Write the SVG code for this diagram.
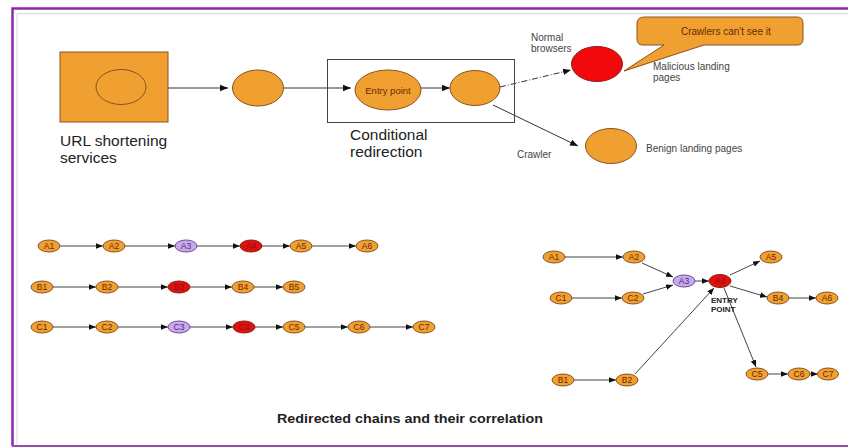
<svg xmlns="http://www.w3.org/2000/svg" width="848" height="448" viewBox="0 0 848 448">
<style>
text{font-family:"Liberation Sans",Arial,sans-serif}
.or{fill:#EFA031;stroke:#8a5220;stroke-width:1}
.rd{fill:#E01010;stroke:#8a2010;stroke-width:1}
.pu{fill:#C9A9EC;stroke:#6c4c9c;stroke-width:1}
.lbl{font-size:8.5px;fill:#6b2a00;text-anchor:middle}
.ann{font-size:10px;fill:#444}
.big{font-size:15.5px;fill:#222}
.e{stroke:#444;stroke-width:1;fill:none;marker-end:url(#ah)}
.eb{stroke:#333;stroke-width:1;fill:none;marker-end:url(#ahb)}
</style>
<defs>
<marker id="ah" viewBox="0 0 10 10" refX="10" refY="5" markerWidth="7" markerHeight="7" orient="auto" markerUnits="userSpaceOnUse"><path d="M0,1 L10,5 L0,9 z" fill="#111"/></marker>
<marker id="ahb" viewBox="0 0 10 10" refX="10" refY="5" markerWidth="8" markerHeight="8" orient="auto" markerUnits="userSpaceOnUse"><path d="M0,1 L10,5 L0,9 z" fill="#111"/></marker>
</defs>
<rect width="848" height="448" fill="#fff"/>
<g id="frame">
<path d="M12.5,446 V8.5 H848" fill="none" stroke="#8a2aa8" stroke-width="2.5"/>
<path d="M17,446 V13.5 H848" fill="none" stroke="#d8d8d8" stroke-width="1"/>
<line x1="12" y1="446" x2="848" y2="446" stroke="#9a4aa8" stroke-width="2"/>
</g>
<g id="connectors">
<line class="eb" x1="146" y1="88" x2="228" y2="88"/>
<line class="eb" x1="284" y1="88" x2="351" y2="88"/>
<line class="eb" x1="421" y1="88" x2="450" y2="88"/>
<line class="eb" x1="500" y1="87" x2="571" y2="70" stroke-dasharray="6 2 1 2"/>
<line class="eb" x1="493" y1="105" x2="578" y2="146"/>
<line class="e" x1="60" y1="246" x2="103" y2="246"/>
<line class="e" x1="125" y1="246" x2="175" y2="246"/>
<line class="e" x1="197" y1="246" x2="240" y2="246"/>
<line class="e" x1="262" y1="246" x2="290" y2="246"/>
<line class="e" x1="312" y1="246" x2="356" y2="246"/>
<line class="e" x1="53" y1="287" x2="96" y2="287"/>
<line class="e" x1="118" y1="287" x2="168" y2="287"/>
<line class="e" x1="190" y1="287" x2="232" y2="287"/>
<line class="e" x1="254" y1="287" x2="283" y2="287"/>
<line class="e" x1="53" y1="327" x2="96" y2="327"/>
<line class="e" x1="118" y1="327" x2="168" y2="327"/>
<line class="e" x1="190" y1="327" x2="233" y2="327"/>
<line class="e" x1="255" y1="327" x2="283" y2="327"/>
<line class="e" x1="305" y1="327" x2="348" y2="327"/>
<line class="e" x1="370" y1="327" x2="413" y2="327"/>
<line class="e" x1="565" y1="257" x2="623" y2="257"/>
<line class="e" x1="642" y1="263" x2="673" y2="277"/>
<line class="e" x1="572" y1="298" x2="622" y2="298"/>
<line class="e" x1="643" y1="294" x2="673" y2="285"/>
<line class="e" x1="574" y1="380" x2="616" y2="380"/>
<line class="e" x1="635" y1="374" x2="714" y2="288"/>
<line class="e" x1="695" y1="281" x2="709" y2="281"/>
<line class="e" x1="730" y1="275" x2="760" y2="261"/>
<line class="e" x1="730" y1="286" x2="767" y2="297"/>
<line class="e" x1="789" y1="298" x2="816" y2="298"/>
<line class="e" x1="724" y1="288" x2="756" y2="367"/>
<line class="e" x1="768" y1="374" x2="788" y2="374"/>
<line class="e" x1="810" y1="374" x2="818" y2="374"/>
</g>
<g id="url-shortening">
<rect x="60" y="52" width="108" height="70" class="or"/>
<ellipse cx="121" cy="87" rx="25" ry="17.5" class="or"/>
<text class="big" x="60" y="146">URL shortening</text>
<text class="big" x="60" y="163">services</text>
</g>
<g id="hop">
<ellipse cx="258" cy="88" rx="25.5" ry="18" class="or"/>
</g>
<g id="conditional">
<rect x="327.5" y="59.5" width="187" height="63" fill="none" stroke="#444" stroke-width="1"/>
<text class="big" x="350" y="140">Conditional</text>
<text class="big" x="350" y="157">redirection</text>
</g>
<g id="entry-point">
<ellipse cx="388" cy="90" rx="33" ry="20" class="or"/>
<text x="388" y="94" font-size="9.5" fill="#6b2a00" text-anchor="middle">Entry point</text>
</g>
<g id="redirect-node">
<ellipse cx="475" cy="88" rx="25" ry="17.5" class="or"/>
</g>
<g id="malicious">
<ellipse cx="597" cy="64" rx="25.5" ry="17.5" fill="#F20A0A" stroke="#9a1a1a" stroke-width="1"/>
<text class="ann" x="531" y="41">Normal</text>
<text class="ann" x="531" y="52">browsers</text>
<text class="ann" x="653" y="70">Malicious landing</text>
<text class="ann" x="653" y="81">pages</text>
</g>
<g id="callout">
<path d="M645,17 H797 Q803,17 803,23 V39 Q803,45 797,45 H704 L624,71 L664,45 H643 Q637,45 637,39 V23 Q637,17 645,17 Z" class="or"/>
<text x="681" y="35" font-size="10" fill="#6b2a00">Crawlers can't see it</text>
</g>
<g id="benign">
<ellipse cx="611" cy="146" rx="25.5" ry="17.5" class="or"/>
<text class="ann" x="646" y="152">Benign landing pages</text>
<text class="ann" x="517" y="158">Crawler</text>
</g>
<g id="chainA">
<g id="a1"><ellipse cx="49" cy="246" rx="11" ry="6" class="or"/><text class="lbl" x="49" y="249">A1</text></g>
<g id="a2"><ellipse cx="114" cy="246" rx="11" ry="6" class="or"/><text class="lbl" x="114" y="249">A2</text></g>
<g id="a3"><ellipse cx="186" cy="246" rx="11" ry="6" class="pu"/><text class="lbl" x="186" y="249" style="fill:#4a2a7a">A3</text></g>
<g id="a4"><ellipse cx="251" cy="246" rx="11" ry="6" class="rd"/><text class="lbl" x="251" y="249" style="fill:#8a1010">A4</text></g>
<g id="a5"><ellipse cx="301" cy="246" rx="11" ry="6" class="or"/><text class="lbl" x="301" y="249">A5</text></g>
<g id="a6"><ellipse cx="367" cy="246" rx="11" ry="6" class="or"/><text class="lbl" x="367" y="249">A6</text></g>
</g>
<g id="chainB">
<g id="b1"><ellipse cx="42" cy="287" rx="11" ry="6" class="or"/><text class="lbl" x="42" y="290">B1</text></g>
<g id="b2"><ellipse cx="107" cy="287" rx="11" ry="6" class="or"/><text class="lbl" x="107" y="290">B2</text></g>
<g id="b3"><ellipse cx="179" cy="287" rx="11" ry="6" class="rd"/><text class="lbl" x="179" y="290" style="fill:#8a1010">B3</text></g>
<g id="b4"><ellipse cx="243" cy="287" rx="11" ry="6" class="or"/><text class="lbl" x="243" y="290">B4</text></g>
<g id="b5"><ellipse cx="294" cy="287" rx="11" ry="6" class="or"/><text class="lbl" x="294" y="290">B5</text></g>
</g>
<g id="chainC">
<g id="c1"><ellipse cx="42" cy="327" rx="11" ry="6" class="or"/><text class="lbl" x="42" y="330">C1</text></g>
<g id="c2"><ellipse cx="107" cy="327" rx="11" ry="6" class="or"/><text class="lbl" x="107" y="330">C2</text></g>
<g id="c3"><ellipse cx="179" cy="327" rx="11" ry="6" class="pu"/><text class="lbl" x="179" y="330" style="fill:#4a2a7a">C3</text></g>
<g id="c4"><ellipse cx="244" cy="327" rx="11" ry="6" class="rd"/><text class="lbl" x="244" y="330" style="fill:#8a1010">C4</text></g>
<g id="c5"><ellipse cx="294" cy="327" rx="11" ry="6" class="or"/><text class="lbl" x="294" y="330">C5</text></g>
<g id="c6"><ellipse cx="359" cy="327" rx="11" ry="6" class="or"/><text class="lbl" x="359" y="330">C6</text></g>
<g id="c7"><ellipse cx="424" cy="327" rx="11" ry="6" class="or"/><text class="lbl" x="424" y="330">C7</text></g>
</g>
<g id="correlation">
<g id="r-a1"><ellipse cx="554" cy="257" rx="11" ry="6" class="or"/><text class="lbl" x="554" y="260">A1</text></g>
<g id="r-a2"><ellipse cx="634" cy="257" rx="11" ry="6" class="or"/><text class="lbl" x="634" y="260">A2</text></g>
<g id="r-c1"><ellipse cx="561" cy="298" rx="11" ry="6" class="or"/><text class="lbl" x="561" y="301">C1</text></g>
<g id="r-c2"><ellipse cx="633" cy="298" rx="11" ry="6" class="or"/><text class="lbl" x="633" y="301">C2</text></g>
<g id="r-b1"><ellipse cx="563" cy="380" rx="11" ry="6" class="or"/><text class="lbl" x="563" y="383">B1</text></g>
<g id="r-b2"><ellipse cx="627" cy="380" rx="11" ry="6" class="or"/><text class="lbl" x="627" y="383">B2</text></g>
<g id="r-a3"><ellipse cx="684" cy="281" rx="11" ry="6" class="pu"/><text class="lbl" x="684" y="284" style="fill:#4a2a7a">A3</text></g>
<g id="r-a4"><ellipse cx="720" cy="281" rx="11" ry="6.5" class="rd"/><text class="lbl" x="720" y="284" style="fill:#8a1010">A4</text>
<text x="711" y="303" font-size="8" font-weight="bold" fill="#222">ENTRY</text>
<text x="711" y="312" font-size="8" font-weight="bold" fill="#222">POINT</text></g>
<g id="r-a5"><ellipse cx="771" cy="257" rx="11" ry="6" class="or"/><text class="lbl" x="771" y="260">A5</text></g>
<g id="r-b4"><ellipse cx="778" cy="298" rx="11" ry="6" class="or"/><text class="lbl" x="778" y="301">B4</text></g>
<g id="r-a6"><ellipse cx="827" cy="298" rx="11" ry="6" class="or"/><text class="lbl" x="827" y="301">A6</text></g>
<g id="r-c5"><ellipse cx="757" cy="374" rx="11" ry="6" class="or"/><text class="lbl" x="757" y="377">C5</text></g>
<g id="r-c6"><ellipse cx="799" cy="374" rx="11" ry="6" class="or"/><text class="lbl" x="799" y="377">C6</text></g>
<g id="r-c7"><ellipse cx="828" cy="374" rx="10.5" ry="6" class="or"/><text class="lbl" x="828" y="377">C7</text></g>
</g>
<text x="277" y="423" font-size="12" font-weight="bold" fill="#222" textLength="266" lengthAdjust="spacingAndGlyphs">Redirected chains and their correlation</text>
</svg>
